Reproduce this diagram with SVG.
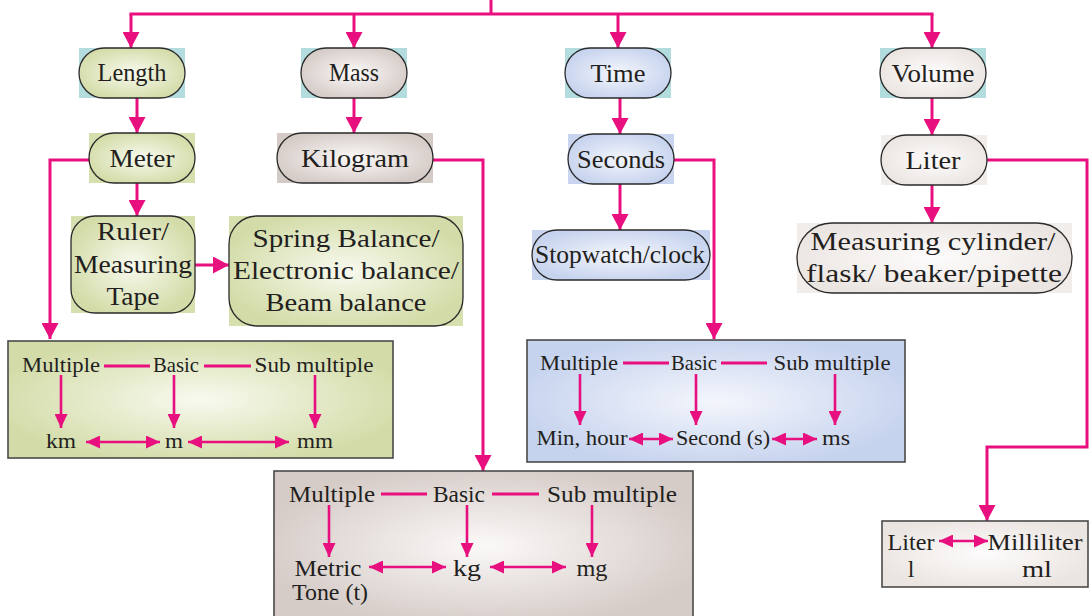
<svg xmlns="http://www.w3.org/2000/svg" width="1090" height="616" viewBox="0 0 1090 616">
<defs>
<style>
.ln{stroke:#e8107f;stroke-width:3;fill:none}
.arr{stroke:#e8107f;stroke-width:3;fill:none;marker-end:url(#ah)}
.sa{stroke:#e8107f;stroke-width:2.6;fill:none;marker-end:url(#sh)}
.da{stroke:#e8107f;stroke-width:2.6;fill:none;marker-end:url(#sh);marker-start:url(#sh)}
.pill{stroke:#2a2a2a;stroke-width:1.3}
.box{stroke:#4a4a4a;stroke-width:1.6}
text{font-family:"Liberation Serif",serif;fill:#231f20;text-anchor:middle}
.t24{font-size:26px}
.t21{font-size:22px}
.t23{font-size:24px}
.teal{fill:#b3dcdf}
.gbg{fill:#d6dfae}
.kbg{fill:#d4cac6}
.bbg{fill:#c9d5ee}
.cbg{fill:#f1edea}
</style>
<marker id="ah" markerUnits="userSpaceOnUse" markerWidth="16" markerHeight="17" refX="16" refY="8.5" orient="auto"><path d="M0,0 L16,8.5 L0,17 z" fill="#e8107f"/></marker>
<marker id="sh" markerUnits="userSpaceOnUse" markerWidth="14" markerHeight="13" refX="14" refY="6.5" orient="auto-start-reverse"><path d="M0,0 L14,6.5 L0,13 z" fill="#e8107f"/></marker>
<radialGradient id="gG" cx="50%" cy="50%" r="55%"><stop offset="0" stop-color="#f8faef"/><stop offset="1" stop-color="#d3dca8"/></radialGradient>
<radialGradient id="gK" cx="50%" cy="50%" r="55%"><stop offset="0" stop-color="#fbf9f8"/><stop offset="1" stop-color="#d5cbc7"/></radialGradient>
<radialGradient id="gB" cx="50%" cy="50%" r="55%"><stop offset="0" stop-color="#f4f6fc"/><stop offset="1" stop-color="#c6d3ee"/></radialGradient>
<radialGradient id="gC" cx="50%" cy="50%" r="55%"><stop offset="0" stop-color="#fdfcfc"/><stop offset="1" stop-color="#ebe5e1"/></radialGradient>
</defs>
<rect width="1090" height="616" fill="#ffffff"/>

<g id="connectors">
<path class="ln" d="M491,0 V14 M129.5,14 H933.5"/>
<path class="arr" d="M131,14 V48"/>
<path class="arr" d="M354,14 V48"/>
<path class="arr" d="M618,14 V48"/>
<path class="arr" d="M932,14 V48"/>
<path class="arr" d="M137,98 V133"/>
<path class="arr" d="M354,98 V133"/>
<path class="arr" d="M620,98 V134"/>
<path class="arr" d="M932,98 V135"/>
<path class="arr" d="M137,183 V216"/>
<path class="arr" d="M89,160 H50 V339"/>
<path class="arr" d="M195,265 H229"/>
<path class="arr" d="M433,160 H483 V471"/>
<path class="arr" d="M620,184 V230"/>
<path class="arr" d="M674,160 H714 V339"/>
<path class="arr" d="M932,185 V223"/>
<path class="arr" d="M987,160 H1087 V447 H987 V521"/>
</g>

<g id="length">
<rect class="teal" x="79" y="48" width="106" height="50"/>
<rect class="pill" x="79" y="48" width="106" height="50" rx="25" fill="url(#gG)"/>
<text class="t24" x="132" y="81" textLength="69" lengthAdjust="spacingAndGlyphs">Length</text>
</g>
<g id="mass">
<rect class="teal" x="301" y="48" width="106" height="50"/>
<rect class="pill" x="301" y="48" width="106" height="50" rx="25" fill="url(#gK)"/>
<text class="t24" x="354" y="81" textLength="50" lengthAdjust="spacingAndGlyphs">Mass</text>
</g>
<g id="time">
<rect class="teal" x="565" y="48" width="106" height="50"/>
<rect class="pill" x="565" y="48" width="106" height="50" rx="25" fill="url(#gB)"/>
<text class="t24" x="618" y="82" textLength="55" lengthAdjust="spacingAndGlyphs">Time</text>
</g>
<g id="volume">
<rect class="teal" x="880" y="48" width="106" height="50"/>
<rect class="pill" x="880" y="48" width="106" height="50" rx="25" fill="url(#gC)"/>
<text class="t24" x="933" y="82" textLength="83" lengthAdjust="spacingAndGlyphs">Volume</text>
</g>

<g id="meter">
<rect class="gbg" x="89" y="133" width="106" height="50"/>
<rect class="pill" x="89" y="133" width="106" height="50" rx="25" fill="url(#gG)"/>
<text class="t24" x="142" y="167" textLength="65" lengthAdjust="spacingAndGlyphs">Meter</text>
</g>
<g id="kilogram">
<rect class="kbg" x="277" y="133" width="156" height="50"/>
<rect class="pill" x="277" y="133" width="156" height="50" rx="25" fill="url(#gK)"/>
<text class="t24" x="355" y="167" textLength="108" lengthAdjust="spacingAndGlyphs">Kilogram</text>
</g>
<g id="seconds">
<rect class="bbg" x="568" y="134" width="106" height="50"/>
<rect class="pill" x="568" y="134" width="106" height="50" rx="25" fill="url(#gB)"/>
<text class="t24" x="621" y="168" textLength="88" lengthAdjust="spacingAndGlyphs">Seconds</text>
</g>
<g id="liter">
<rect class="cbg" x="881" y="135" width="106" height="50"/>
<rect class="pill" x="881" y="135" width="106" height="50" rx="25" fill="url(#gC)"/>
<text class="t24" x="933" y="169" textLength="55" lengthAdjust="spacingAndGlyphs">Liter</text>
</g>

<g id="ruler">
<rect class="gbg" x="71" y="216" width="124" height="97"/>
<rect class="pill" x="71" y="216" width="124" height="97" rx="24" fill="url(#gG)"/>
<text class="t24" x="133" y="240" textLength="72" lengthAdjust="spacingAndGlyphs">Ruler/</text>
<text class="t24" x="133" y="273" textLength="118" lengthAdjust="spacingAndGlyphs">Measuring</text>
<text class="t24" x="133" y="305" textLength="53" lengthAdjust="spacingAndGlyphs">Tape</text>
</g>
<g id="spring">
<rect class="gbg" x="229" y="216" width="234" height="110"/>
<rect class="pill" x="229" y="216" width="234" height="110" rx="28" fill="url(#gG)"/>
<text class="t24" x="346" y="247" textLength="187" lengthAdjust="spacingAndGlyphs">Spring Balance/</text>
<text class="t24" x="346" y="279" textLength="226" lengthAdjust="spacingAndGlyphs">Electronic balance/</text>
<text class="t24" x="346" y="311" textLength="161" lengthAdjust="spacingAndGlyphs">Beam balance</text>
</g>
<g id="stopwatch">
<rect class="bbg" x="532" y="230" width="178" height="50"/>
<rect class="pill" x="532" y="230" width="178" height="50" rx="25" fill="url(#gB)"/>
<text class="t24" x="620" y="263" textLength="170" lengthAdjust="spacingAndGlyphs">Stopwatch/clock</text>
</g>
<g id="measuring">
<rect class="cbg" x="797" y="223" width="275" height="70"/>
<rect class="pill" x="797" y="223" width="275" height="70" rx="35" fill="url(#gC)"/>
<text class="t24" x="933" y="250" textLength="245" lengthAdjust="spacingAndGlyphs">Measuring cylinder/</text>
<text class="t24" x="934" y="282" textLength="256" lengthAdjust="spacingAndGlyphs">flask/ beaker/pipette</text>
</g>

<g id="length-units">
<rect class="box" x="8" y="341" width="385" height="117" fill="url(#gG)"/>
<text class="t21" x="61" y="372" textLength="78" lengthAdjust="spacingAndGlyphs">Multiple</text>
<text class="t21" x="176" y="372" textLength="46" lengthAdjust="spacingAndGlyphs">Basic</text>
<text class="t21" x="314" y="372" textLength="119" lengthAdjust="spacingAndGlyphs">Sub multiple</text>
<path class="ln" d="M104,366 H150 M204,366 H251"/>
<path class="sa" d="M61,375 V428"/>
<path class="sa" d="M174,375 V428"/>
<path class="sa" d="M315,375 V428"/>
<text class="t21" x="61" y="448" textLength="30" lengthAdjust="spacingAndGlyphs">km</text>
<text class="t21" x="174" y="448" textLength="18" lengthAdjust="spacingAndGlyphs">m</text>
<text class="t21" x="315" y="448" textLength="36" lengthAdjust="spacingAndGlyphs">mm</text>
<path class="da" d="M86,442 H160"/>
<path class="da" d="M188,442 H289"/>
</g>

<g id="time-units">
<rect class="box" x="527" y="340" width="378" height="122" fill="url(#gB)"/>
<text class="t21" x="579" y="370" textLength="78" lengthAdjust="spacingAndGlyphs">Multiple</text>
<text class="t21" x="694" y="370" textLength="46" lengthAdjust="spacingAndGlyphs">Basic</text>
<text class="t21" x="832" y="370" textLength="117" lengthAdjust="spacingAndGlyphs">Sub multiple</text>
<path class="ln" d="M623,363 H669 M721,363 H767"/>
<path class="sa" d="M580,374 V425"/>
<path class="sa" d="M696,374 V425"/>
<path class="sa" d="M835,374 V425"/>
<text class="t21" x="582" y="445" textLength="91" lengthAdjust="spacingAndGlyphs">Min, hour</text>
<text class="t21" x="723" y="445" textLength="94" lengthAdjust="spacingAndGlyphs">Second (s)</text>
<text class="t21" x="836" y="445" textLength="28" lengthAdjust="spacingAndGlyphs">ms</text>
<path class="da" d="M629,439 H673"/>
<path class="da" d="M772,439 H817"/>
</g>

<g id="mass-units">
<rect class="box" x="274" y="471" width="419" height="150" fill="url(#gK)"/>
<text class="t23" x="332" y="502" textLength="86" lengthAdjust="spacingAndGlyphs">Multiple</text>
<text class="t23" x="459" y="502" textLength="52" lengthAdjust="spacingAndGlyphs">Basic</text>
<text class="t23" x="612" y="502" textLength="130" lengthAdjust="spacingAndGlyphs">Sub multiple</text>
<path class="ln" d="M381,494 H427 M492,494 H539"/>
<path class="sa" d="M329,505 V557"/>
<path class="sa" d="M467,505 V557"/>
<path class="sa" d="M592,505 V557"/>
<text class="t23" x="328" y="576" textLength="67" lengthAdjust="spacingAndGlyphs">Metric</text>
<text class="t23" x="330" y="600" textLength="76" lengthAdjust="spacingAndGlyphs">Tone (t)</text>
<text class="t23" x="467" y="576" textLength="28" lengthAdjust="spacingAndGlyphs">kg</text>
<text class="t23" x="592" y="576" textLength="31" lengthAdjust="spacingAndGlyphs">mg</text>
<path class="da" d="M369,567 H446"/>
<path class="da" d="M490,567 H566"/>
</g>

<g id="volume-units">
<rect class="box" x="882" y="521" width="206" height="66" fill="url(#gC)"/>
<text class="t23" x="911" y="550" textLength="47" lengthAdjust="spacingAndGlyphs">Liter</text>
<text class="t23" x="911" y="577">l</text>
<text class="t23" x="1035" y="550" textLength="95" lengthAdjust="spacingAndGlyphs">Milliliter</text>
<text class="t23" x="1037" y="577" textLength="30" lengthAdjust="spacingAndGlyphs">ml</text>
<path class="da" d="M939,541 H988"/>
</g>
</svg>
